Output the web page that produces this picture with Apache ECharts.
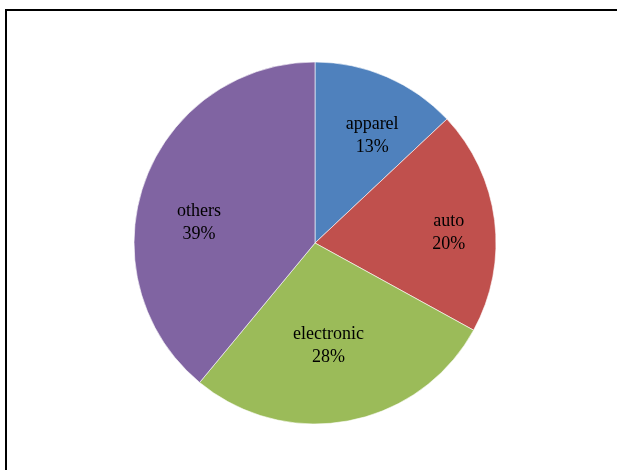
<!DOCTYPE html>
<html>
<head>
<meta charset="utf-8">
<style>
  html, body { margin: 0; padding: 0; background: #fff; }
  #chart { width: 617px; height: 470px; }
</style>
<script src="https://cdn.jsdelivr.net/npm/echarts@6/dist/echarts.min.js"></script>
</head>
<body>
<div id="chart"></div>
<script>
// Share of sales by category (percent)
const categories = ['apparel', 'auto', 'electronic', 'others'];
const shares = [13, 20, 28, 39];
const sliceColors = ['#4F81BD', '#C0504D', '#9BBB59', '#8064A2'];
// Nudges for each slice label away from the default inside position
const labelOffsets = [[20, -21], [41, 1], [-4, 11], [-28, 11]];

const chart = echarts.init(document.getElementById('chart'), null, { renderer: 'canvas' });

chart.setOption({
  animation: false,
  backgroundColor: '#ffffff',
  graphic: [{
    type: 'rect',
    shape: { x: 6, y: 10, width: 700, height: 600 },
    style: { fill: 'none', stroke: '#000000', lineWidth: 2 },
    silent: true
  }],
  series: [{
    type: 'pie',
    center: [315, 243],
    radius: 181,
    startAngle: 90,
    clockwise: true,
    avoidLabelOverlap: false,
    itemStyle: { borderColor: 'rgba(255,255,255,0.8)', borderWidth: 0.75 },
    label: {
      show: true,
      position: 'inside',
      formatter: p => p.name + '\n' + p.value + '%',
      fontFamily: '"Liberation Serif", "Times New Roman", serif',
      fontSize: 18,
      lineHeight: 23,
      color: '#000000',
      align: 'center'
    },
    labelLine: { show: false },
    emphasis: { disabled: true },
    data: categories.map((name, i) => ({
      name: name,
      value: shares[i],
      itemStyle: { color: sliceColors[i] },
      label: { offset: labelOffsets[i] }
    }))
  }]
});
</script>
</body>
</html>
